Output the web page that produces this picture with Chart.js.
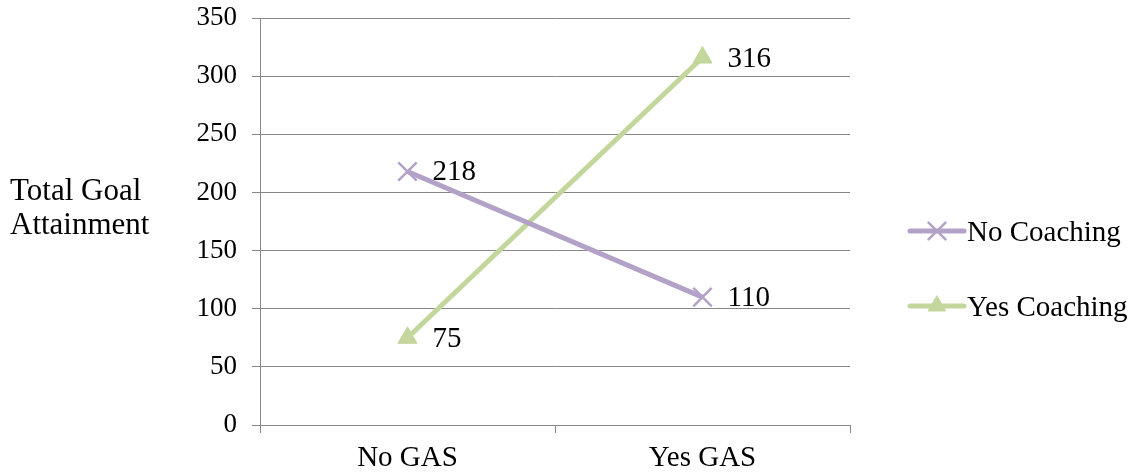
<!DOCTYPE html>
<html>
<head>
<meta charset="utf-8">
<script src="https://cdn.jsdelivr.net/npm/chart.js@4.4.1/dist/chart.umd.min.js"></script>
<style>
  html, body { margin: 0; padding: 0; background: #ffffff; }
  #wrap { width: 1138px; height: 476px; position: relative; }
</style>
</head>
<body>
<div id="wrap"><canvas id="chart" width="1138" height="476"></canvas></div>
<script>
// Categories and series values
const categories = ['No GAS', 'Yes GAS'];
const noCoaching = [218, 110];
const yesCoaching = [75, 316];
const yTicks = [0, 50, 100, 150, 200, 250, 300, 350];
const seriesNames = ['No Coaching', 'Yes Coaching'];
const axisTitle = ['Total Goal', 'Attainment'];

const FONT = '"Liberation Serif", "Times New Roman", serif';
const PURPLE = '#b3a2c7';
const GREEN = '#c3d69b';
const GRID = '#878787';

// Value labels placed to the right of each point
const valueLabels = {
  id: 'valueLabels',
  afterDatasetsDraw(chart) {
    const ctx = chart.ctx;
    ctx.save();
    ctx.font = '29px ' + FONT;
    ctx.fillStyle = '#000';
    ctx.textAlign = 'left';
    ctx.textBaseline = 'alphabetic';
    chart.data.datasets.forEach((ds, i) => {
      chart.getDatasetMeta(i).data.forEach((pt, j) => {
        ctx.fillText(String(ds.data[j]), pt.x + 25, pt.y + 9);
      });
    });
    ctx.restore();
  }
};

// Horizontal two-line axis title on the left
const leftTitle = {
  id: 'leftTitle',
  afterDraw(chart) {
    const ctx = chart.ctx;
    ctx.save();
    ctx.font = '31px ' + FONT;
    ctx.fillStyle = '#000';
    ctx.textAlign = 'left';
    ctx.textBaseline = 'alphabetic';
    ctx.fillText(axisTitle[0], 10, 200);
    ctx.fillText(axisTitle[1], 10, 234);
    ctx.restore();
  }
};

// Legend on the right: line sample with marker, then series name
const sideLegend = {
  id: 'sideLegend',
  afterDraw(chart) {
    const ctx = chart.ctx;
    const rows = [231, 306];
    ctx.save();
    chart.data.datasets.forEach((ds, i) => {
      const y = rows[i];
      ctx.strokeStyle = ds.borderColor;
      ctx.lineWidth = 5;
      ctx.lineCap = 'round';
      ctx.beginPath();
      ctx.moveTo(910, y);
      ctx.lineTo(964, y);
      ctx.stroke();
      ctx.fillStyle = ds.pointBackgroundColor;
      ctx.strokeStyle = ds.pointBorderColor;
      ctx.lineWidth = ds.pointBorderWidth;
      Chart.helpers.drawPoint(ctx, {
        pointStyle: ds.pointStyle,
        radius: ds.pointRadius - 1,
        borderWidth: ds.pointBorderWidth
      }, 937, y);
      ctx.font = '29px ' + FONT;
      ctx.fillStyle = '#000';
      ctx.textAlign = 'left';
      ctx.textBaseline = 'alphabetic';
      ctx.fillText(seriesNames[i], 967, y + 10);
    });
    ctx.restore();
  }
};

new Chart(document.getElementById('chart'), {
  type: 'line',
  data: {
    labels: categories,
    datasets: [
      {
        label: seriesNames[0],
        data: noCoaching,
        borderColor: PURPLE,
        borderWidth: 5,
        pointStyle: 'crossRot',
        pointRadius: 13,
        pointBorderWidth: 2.5,
        pointBorderColor: PURPLE,
        pointBackgroundColor: PURPLE,
        tension: 0
      },
      {
        label: seriesNames[1],
        data: yesCoaching,
        borderColor: GREEN,
        borderWidth: 5,
        pointStyle: 'triangle',
        pointRadius: 11,
        pointBorderWidth: 1,
        pointBorderColor: GREEN,
        pointBackgroundColor: GREEN,
        tension: 0
      }
    ]
  },
  options: {
    responsive: false,
    animation: false,
    layout: { padding: { left: 180, right: 288, top: 18, bottom: 0 } },
    plugins: {
      legend: { display: false },
      tooltip: { enabled: false }
    },
    scales: {
      x: {
        offset: true,
        grid: {
          offset: true,
          drawOnChartArea: false,
          drawTicks: true,
          tickLength: 8,
          color: GRID,
          lineWidth: 1
        },
        border: { color: GRID, width: 1 },
        ticks: { color: '#000', font: { family: FONT, size: 29 }, padding: 8 },
        afterFit(scale) {
          scale.height = 51;
          scale.paddingLeft = 0;
          scale.paddingRight = 0;
        }
      },
      y: {
        min: 0,
        max: 350,
        afterBuildTicks(scale) { scale.ticks = yTicks.map(v => ({ value: v })); },
        grid: { color: GRID, lineWidth: 1, tickLength: 8, drawTicks: true },
        border: { color: GRID, width: 1 },
        ticks: { color: '#000', font: { family: FONT, size: 27 }, padding: 15 },
        afterFit(scale) {
          scale.width = 80;
          scale.paddingTop = 0;
          scale.paddingBottom = 0;
        }
      }
    }
  },
  plugins: [valueLabels, leftTitle, sideLegend]
});
</script>
</body>
</html>
